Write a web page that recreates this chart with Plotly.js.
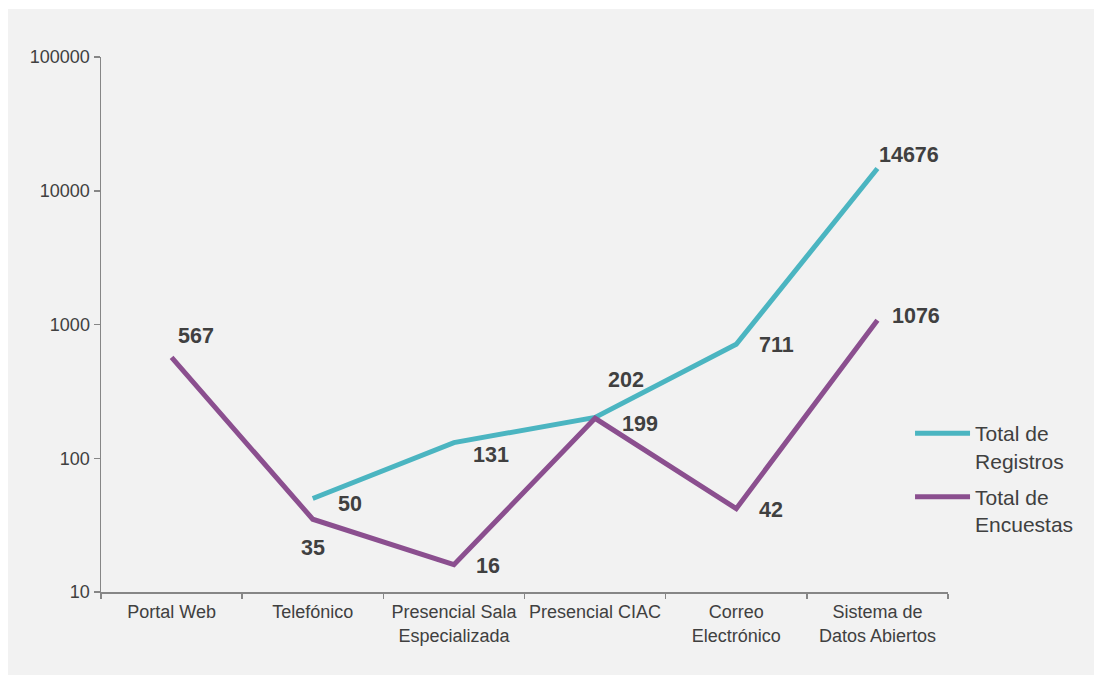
<!DOCTYPE html>
<html>
<head>
<meta charset="utf-8">
<script src="https://cdn.plot.ly/plotly-3.0.1.min.js"></script>
<style>
html,body{margin:0;padding:0;background:#ffffff;}
#chart{position:absolute;left:8px;top:9px;width:1086px;height:666px;}
</style>
</head>
<body>
<div id="chart"></div>
<script>
const categories = ["Portal Web", "Telefónico", "Presencial Sala<br>Especializada", "Presencial CIAC", "Correo<br>Electrónico", "Sistema de<br>Datos Abiertos"];
const registros = [null, 50, 131, 202, 711, 14676];
const encuestas = [567, 35, 16, 199, 42, 1076];
const seriesNames = ["Total de<br>Registros", "Total de<br>Encuestas"];
const yTicks = [10, 100, 1000, 10000, 100000];

// label offsets (style only, pixels)
const regShift = [null, [37,-5], [37,-12], [31,37], [40,-1], [32,13]];
const encShift = [[24,21], [0,-29], [34,-1], [45,-6], [35,-1], [39,4]];

const tealColor = "#4bb5c1";
const purpleColor = "#8b4f8f";
const txtColor = "#404040";
const fam = "'Liberation Sans', Arial, sans-serif";

const traces = [
  {x: categories, y: registros, name: seriesNames[0], legendgroup: "reg", type: "scatter", mode: "lines",
   line: {color: tealColor, width: 5}, connectgaps: false, hoverinfo: "x+y"},
  {x: categories, y: encuestas, name: seriesNames[1], legendgroup: "enc", type: "scatter", mode: "lines",
   line: {color: purpleColor, width: 5}, hoverinfo: "x+y"}
];

const annotations = [];
function addLabels(vals, shifts){
  vals.forEach((v, i) => {
    if (v === null) return;
    annotations.push({x: categories[i], y: Math.log10(v), text: "<b>" + String(v) + "</b>", showarrow: false,
      xshift: shifts[i][0], yshift: shifts[i][1],
      font: {family: fam, size: 21.5, color: txtColor},
      xanchor: "center", yanchor: "middle"});
  });
}
addLabels(registros, regShift);
addLabels(encuestas, encShift);

const layout = {
  width: 1086, height: 666,
  paper_bgcolor: "#f2f2f2", plot_bgcolor: "#f2f2f2",
  margin: {l: 93, r: 146, t: 48, b: 83, autoexpand: false},
  font: {family: fam, color: txtColor, size: 18},
  showlegend: true,
  legend: {xref: "container", yref: "container", x: 0.8306, xanchor: "left", y: 0.3934, yanchor: "top", valign: "top",
    itemwidth: 55, traceorder: "grouped",
    font: {family: fam, size: 21, color: txtColor}, bgcolor: "rgba(0,0,0,0)", tracegroupgap: 6},
  xaxis: {type: "category", range: [-0.5, 5.5], showgrid: false, zeroline: false,
    showline: true, linecolor: "#868686", linewidth: 1.5,
    ticks: "outside", tickson: "boundaries", ticklen: 5, tickcolor: "#868686", tickwidth: 1.5,
    tickangle: 0, automargin: false,
    tickfont: {family: fam, size: 18, color: txtColor}, ticklabelstandoff: 3, fixedrange: true},
  yaxis: {type: "log", range: [1, 5], tickvals: yTicks, ticktext: yTicks.map(String),
    showgrid: false, zeroline: false, showline: true, linecolor: "#868686", linewidth: 1.5,
    ticks: "outside", ticklen: 6, tickcolor: "#868686", tickwidth: 1.5, automargin: false,
    tickfont: {family: fam, size: 18, color: txtColor}, fixedrange: true},
  annotations: annotations
};

Plotly.newPlot("chart", traces, layout, {displayModeBar: false, staticPlot: true});
</script>
</body>
</html>
